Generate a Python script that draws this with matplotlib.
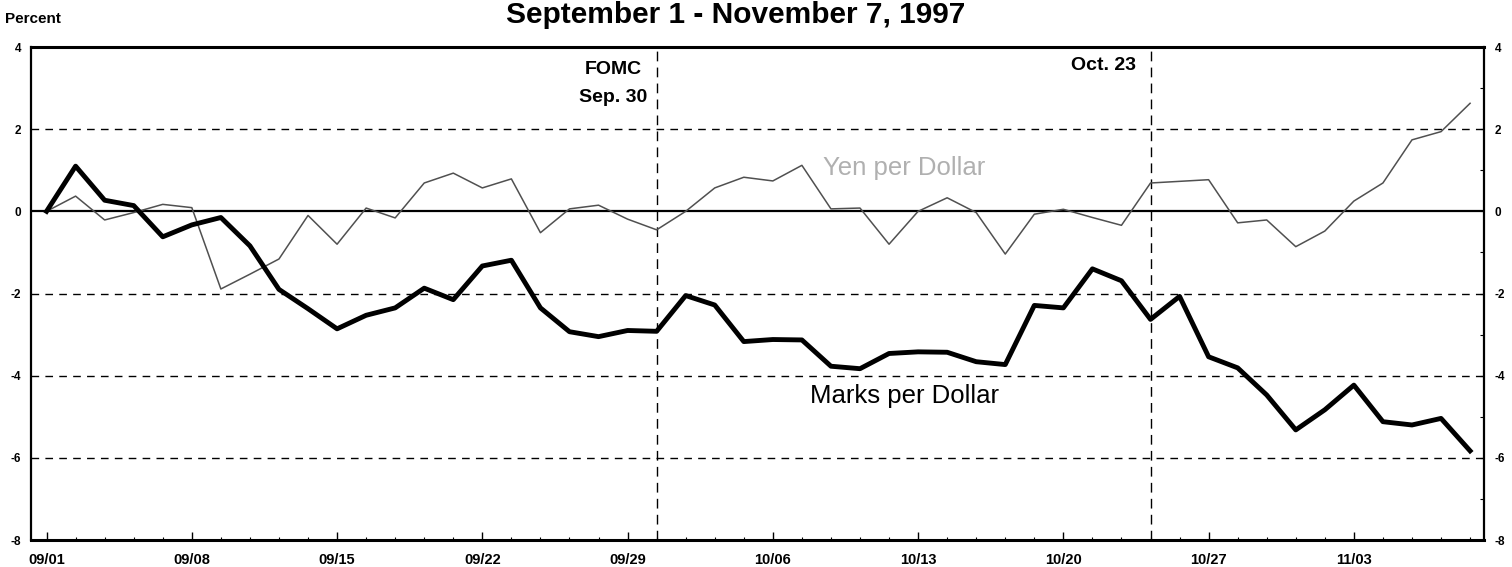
import matplotlib
matplotlib.use('Agg')
import matplotlib.pyplot as plt
import numpy as np
import pandas as pd

plt.rcParams['font.family'] = ['Liberation Sans', 'DejaVu Sans']
plt.rcParams['axes.unicode_minus'] = False

# business days, Sep 1 - Nov 7 1997
dates = pd.bdate_range('1997-09-01', '1997-11-07')

# percent change since Sep 1
marks = [0.00, 1.10, 0.27, 0.14, -0.62, -0.33, -0.15, -0.84, -1.90, -2.37,
         -2.86, -2.53, -2.35, -1.87, -2.15, -1.33, -1.19, -2.35, -2.93, -3.05,
         -2.90, -2.92, -2.05, -2.28, -3.17, -3.12, -3.13, -3.77, -3.83, -3.46,
         -3.42, -3.43, -3.66, -3.73, -2.29, -2.35, -1.40, -1.69, -2.63, -2.07,
         -3.54, -3.81, -4.47, -5.32, -4.83, -4.23, -5.12, -5.20, -5.04, -5.83]
yen = [0.00, 0.37, -0.21, -0.03, 0.17, 0.09, -1.89, -1.53, -1.16, -0.10,
       -0.80, 0.08, -0.16, 0.69, 0.93, 0.57, 0.79, -0.52, 0.06, 0.15,
       -0.19, -0.45, 0.00, 0.57, 0.83, 0.74, 1.12, 0.06, 0.08, -0.80,
       0.00, 0.33, -0.03, -1.04, -0.07, 0.05, -0.15, -0.34, 0.69, 0.73,
       0.77, -0.28, -0.21, -0.86, -0.48, 0.25, 0.69, 1.74, 1.94, 2.63]

week_labels = ['09/01', '09/08', '09/15', '09/22', '09/29',
               '10/06', '10/13', '10/20', '10/27', '11/03']
y_ticks = [4, 2, 0, -2, -4, -6, -8]
grid_levels = [2, -2, -4, -6]
event_dates = ['1997-09-30', '1997-10-23']

x = np.arange(len(dates))
week_pos = [i for i, d in enumerate(dates) if d.weekday() == 0]
event_pos = [dates.get_loc(pd.Timestamp(d)) for d in event_dates]

fig = plt.figure(figsize=(15.12, 5.67), dpi=100)
ax = fig.add_axes([0.0208, 0.0476, 0.9607, 0.8695])
ax.set_xlim(-0.52, 49.48)
ax.set_ylim(-8, 4)

# reference lines
for lv in grid_levels:
    ax.axhline(lv, color='black', lw=1.0, dashes=(5.5, 4.5), zorder=1)
ax.axhline(0, color='black', lw=1.6, zorder=1)
for p in event_pos:
    ax.axvline(p, color='black', lw=1.0, dashes=(7, 4.5), zorder=1)

# series
ax.plot(x, yen, color='#505050', lw=1.1, zorder=3)
ax.plot(x, marks, color='black', lw=3.5, solid_joinstyle='round', zorder=4)

for side in ['top', 'bottom']:
    ax.spines[side].set_linewidth(2.2)
for side in ['left', 'right']:
    ax.spines[side].set_linewidth(1.6)

# x axis
ax.set_xticks(week_pos)
ax.set_xticklabels(week_labels, fontsize=10.5, fontweight='bold')
ax.set_xticks(x, minor=True)
ax.tick_params(axis='x', which='major', direction='in', length=6, width=1, pad=9)
ax.tick_params(axis='x', which='minor', direction='in', length=2.2, width=0.8)

# y axis, labels on both sides
ax.set_yticks(y_ticks)
ax.set_yticklabels([str(v) for v in y_ticks], fontsize=8.5, fontweight='bold')
ax.set_yticks(range(-7, 4, 2), minor=True)
ax.tick_params(axis='y', which='major', left=False, right=True, labelleft=True,
               labelright=True, direction='in', length=3, pad=7.5)
ax.tick_params(axis='y', which='minor', left=False, right=True, direction='in',
               length=3, width=0.8)

# texts
fig.text(735.5 / 1512, 1 - 23 / 567, 'September 1 - November 7, 1997',
         ha='center', va='baseline', fontsize=21.5, fontweight='bold')
fig.text(5 / 1512, 1 - 23 / 567, 'Percent', ha='left', va='baseline',
         fontsize=11, fontweight='bold')
fig.text(642 / 1512, 1 - 74 / 567, 'FOMC', ha='right', va='baseline',
         fontsize=14, fontweight='bold')
fig.text(647 / 1512, 1 - 102 / 567, 'Sep. 30', ha='right', va='baseline',
         fontsize=14, fontweight='bold')
fig.text(1136 / 1512, 1 - 70 / 567, 'Oct. 23', ha='right', va='baseline',
         fontsize=14, fontweight='bold')
fig.text(810 / 1512, 1 - 403 / 567, 'Marks per Dollar', ha='left', va='baseline',
         fontsize=18.5)
fig.text(823 / 1512, 1 - 175 / 567, 'Yen per Dollar', ha='left', va='baseline',
         fontsize=18.5, color='#b0b0b0')

fig.savefig('out.png', dpi=100)
